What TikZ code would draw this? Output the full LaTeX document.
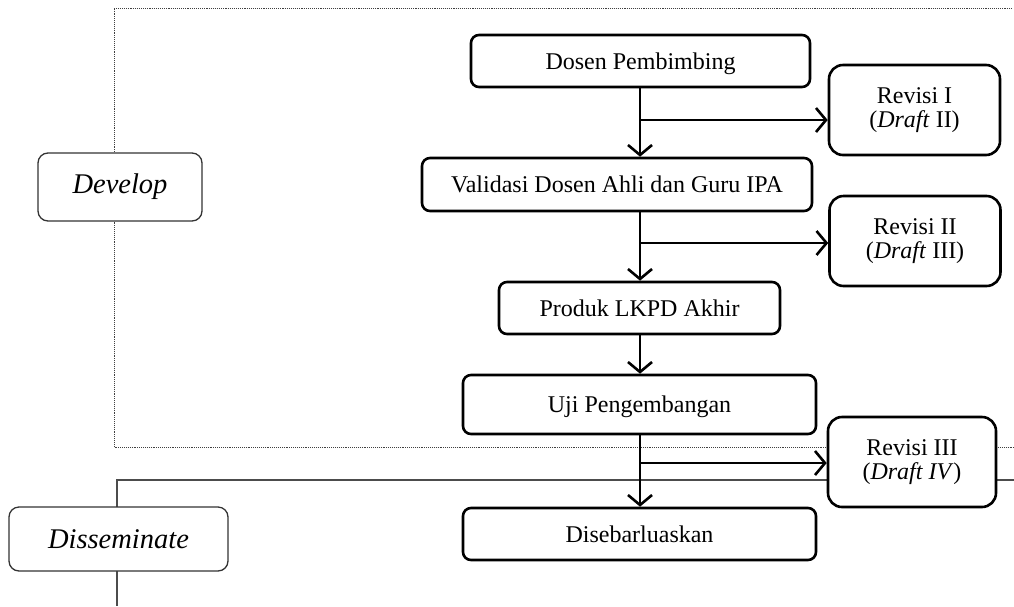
\documentclass[tikz,border=0pt]{standalone}
\usepackage{fontspec}
\setmainfont{Liberation Serif}
\usetikzlibrary{arrows.meta}
\tikzset{
  stepbox/.style={draw=black, line width=2.6pt, rounded corners=8pt, fill=white,
    font=\fontsize{24}{24}\selectfont, inner sep=0pt, align=center, text depth=0pt},
  revbox/.style={draw=black, line width=2.6pt, rounded corners=14pt, fill=white,
    font=\fontsize{24}{24}\selectfont, inner sep=0pt, align=center,
    minimum width=171pt, minimum height=90pt},
  phasebox/.style={draw=black!80, line width=1.3pt, rounded corners=10pt, fill=white,
    font=\fontsize{28.5}{30}\selectfont\itshape, inner sep=0pt},
  flow/.style={line width=2.6pt, -{Straight Barb[length=10pt,width=24pt,line width=2.6pt]}},
  devframe/.style={draw=black!75, line width=0.9pt, densely dotted},
  disframe/.style={draw=black!70, line width=1.1pt},
}
\begin{document}
\begin{tikzpicture}[x=1pt,y=-1pt]
\useasboundingbox (0,0) rectangle (1014,606);
\fill[white] (0,0) rectangle (1014,606);
% frames
\draw[devframe] (1012,8) -- (114,8) -- (114,447) -- (1014,447);
\draw[disframe] (1014,480) -- (117,480) -- (117,606);
% phase nodes
\node[phasebox, minimum width=164pt, minimum height=68pt] (develop) at (120,187) {Develop};
\node[phasebox, minimum width=219pt, minimum height=64pt] (dissem) at (118.5,539) {Disseminate};
% main steps
\node[stepbox, minimum width=339pt, minimum height=52pt] (dosen) at (640.5,61) {Dosen Pembimbing};
\node[stepbox, minimum width=390pt, minimum height=53pt] (valid) at (617,184.5) {Validasi Dosen Ahli dan Guru IPA};
\node[stepbox, minimum width=281pt, minimum height=52pt] (produk) at (639.5,308) {Produk LKPD Akhir};
\node[stepbox, minimum width=353pt, minimum height=59pt] (uji) at (639.5,404.5) {Uji Pengembangan};
\node[stepbox, minimum width=353pt, minimum height=52pt] (diseb) at (639.5,534) {Disebarluaskan};
% revisions
\node[revbox] (rev1) at (914.5,110) {Revisi I\\(\textit{Draft} II)};
\node[revbox] (rev2) at (915,241) {Revisi II\\(\textit{Draft} III)};
\node[revbox, minimum width=168pt] (rev3) at (912,462) {Revisi III\\(\textit{Draft IV})};
% branch points
\coordinate (b1) at (640,120);
\coordinate (b2) at (640,243);
\coordinate (b3) at (640,463);
% connectors
\draw[flow] (dosen.south -| b1) -- (valid.north -| b1);
\draw[flow] (b1) -- (b1 -| rev1.west);
\draw[flow] (valid.south -| b2) -- (produk.north -| b2);
\draw[flow] (b2) -- (b2 -| rev2.west);
\draw[flow] (produk.south -| b2) -- (uji.north -| b2);
\draw[flow] (uji.south -| b3) -- (diseb.north -| b3);
\draw[flow] (b3) -- (b3 -| rev3.west);
\end{tikzpicture}
\end{document}
